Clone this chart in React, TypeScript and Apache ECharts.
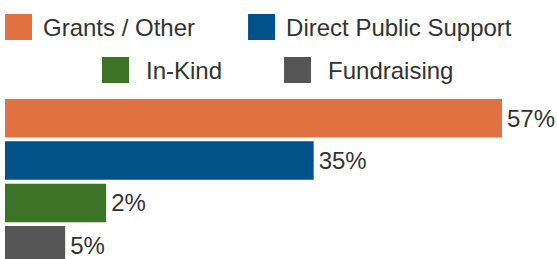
import React, { useEffect, useRef } from "react";
import * as echarts from "echarts";

const categories = ["Grants / Other", "Direct Public Support", "In-Kind", "Fundraising"];
// bar lengths as drawn in the picture (relative scale)
const barValues = [57, 35.4, 11.6, 6.9];
// labels printed at the bar ends
const labelTexts = ["57%", "35%", "2%", "5%"];
const colors = ["#E07241", "#005288", "#3D7326", "#555555"];

const FONT = "'Liberation Sans', Arial, sans-serif";

export default function App() {
  const ref = useRef<HTMLDivElement>(null);
  useEffect(() => {
    if (!ref.current) return;
    const chart = echarts.init(ref.current, null, { renderer: "svg" });
    const series = categories.map((name, i) => ({
      name,
      type: "bar" as const,
      stack: "all",
      barWidth: 38.5,
      data: categories.map((_, j) => (j === i ? barValues[i] : "-")),
      itemStyle: { color: colors[i] },
      label: {
        show: true,
        position: "right" as const,
        distance: 5,
        formatter: () => labelTexts[i],
        color: "#333333",
        fontSize: 24,
        fontFamily: FONT,
      },
    }));
    chart.setOption({
      animation: false,
      legend: [
        {
          data: categories.slice(0, 2),
          left: 5,
          top: 14,
          padding: 0,
          itemWidth: 27,
          itemHeight: 26,
          itemGap: 53,
          icon: "rect",
          textStyle: { fontSize: 24, fontFamily: FONT, color: "#333333", padding: [0, 0, 0, 6] },
        },
        {
          data: categories.slice(2),
          left: 102,
          top: 57,
          padding: 0,
          itemWidth: 27,
          itemHeight: 26,
          itemGap: 62,
          icon: "rect",
          textStyle: { fontSize: 24, fontFamily: FONT, color: "#333333", padding: [0, 0, 0, 12] },
        },
      ],
      grid: { left: 5, top: 97.1, width: 497, height: 169.3 },
      xAxis: { type: "value", min: 0, max: 57, show: false },
      yAxis: { type: "category", data: categories, inverse: true, show: false },
      series,
    });
    return () => chart.dispose();
  }, []);
  return (
    <div
      ref={ref}
      style={{ position: "fixed", left: 0, top: 0, width: 557, height: 300, background: "#fff" }}
    />
  );
}
